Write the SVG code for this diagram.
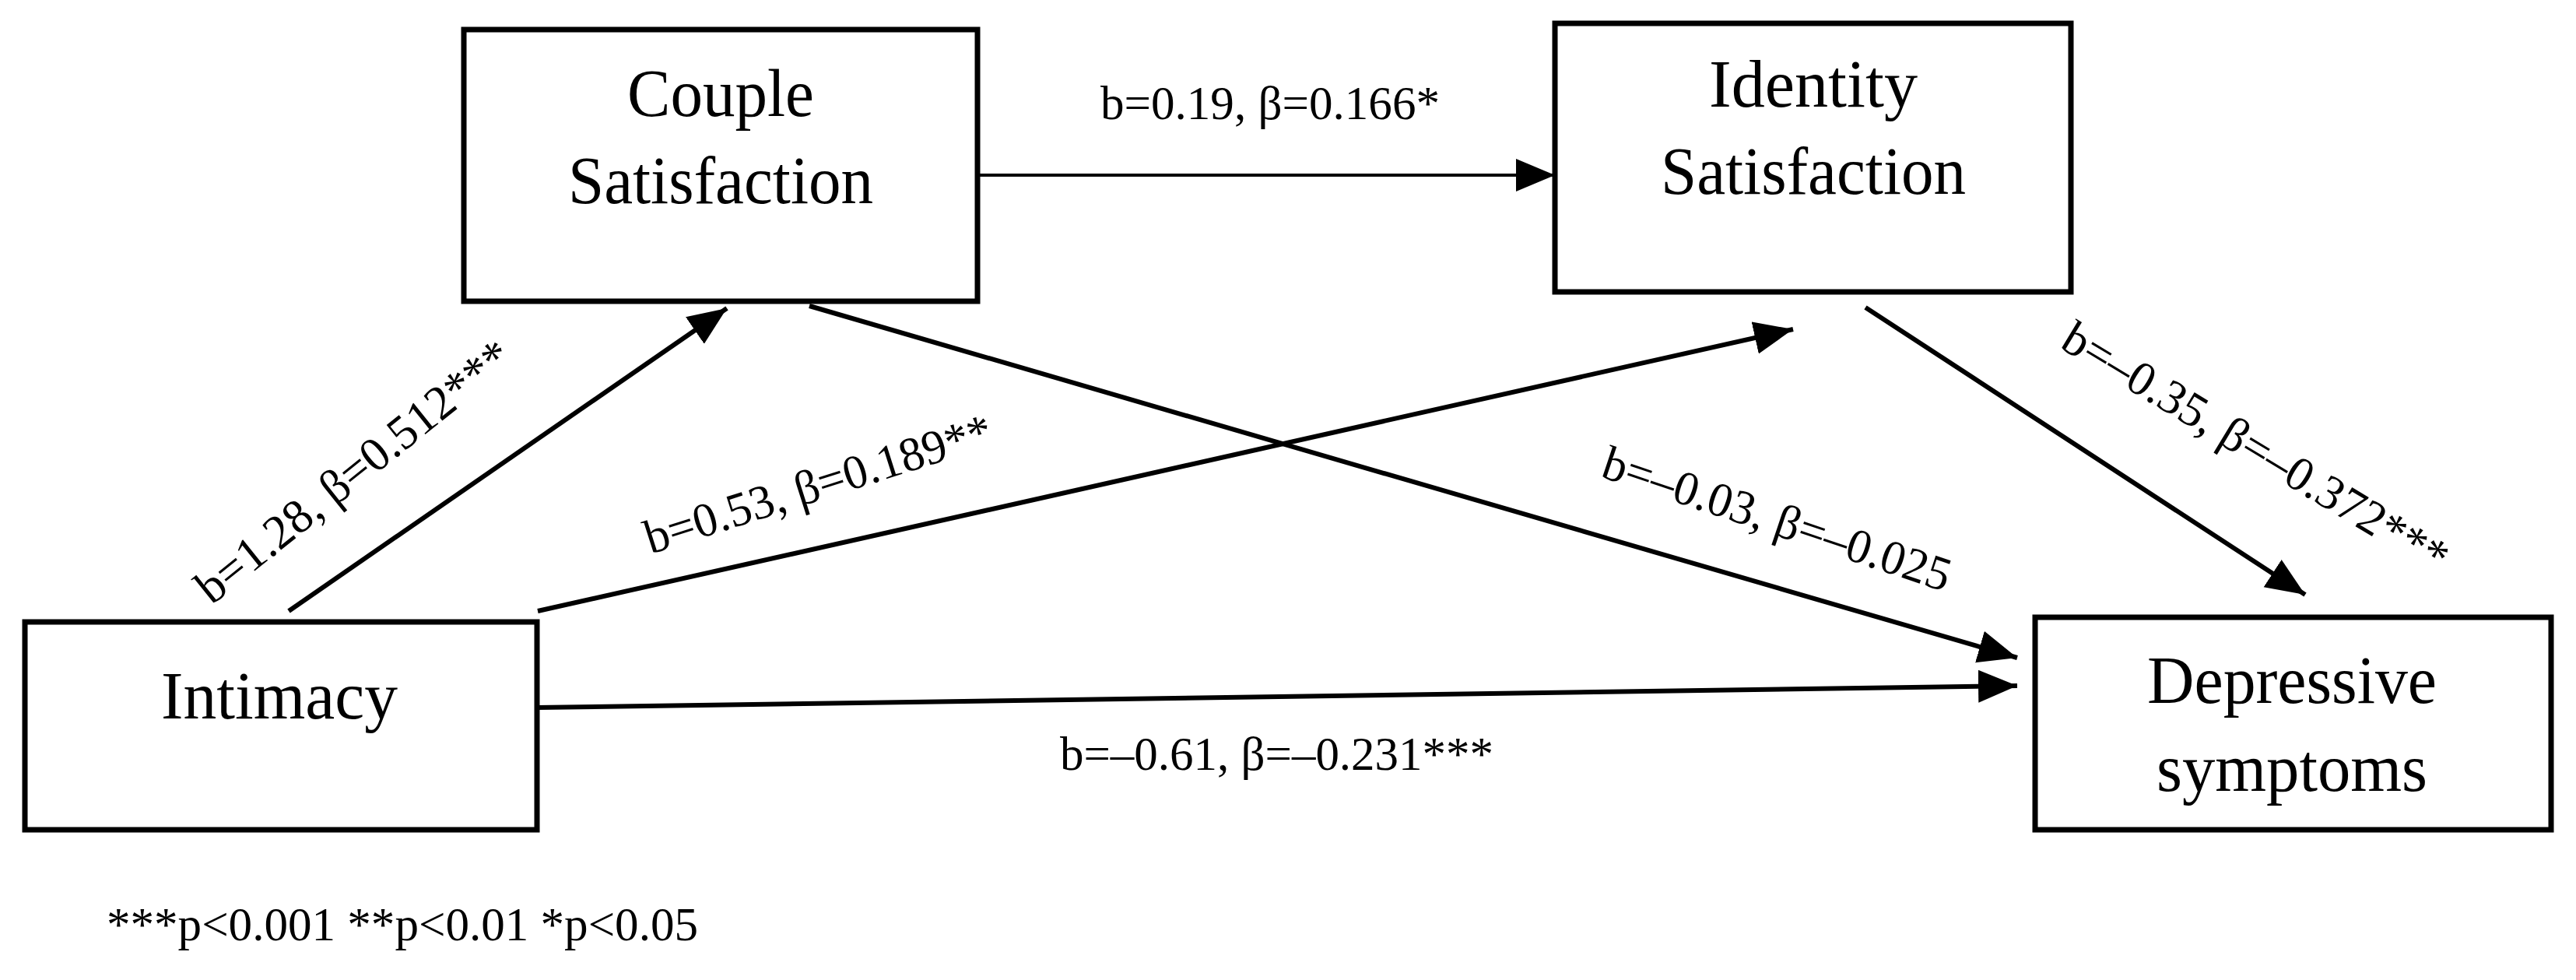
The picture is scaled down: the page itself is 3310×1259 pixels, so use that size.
<svg xmlns="http://www.w3.org/2000/svg" width="3310" height="1259" viewBox="0 0 3310 1259">
<style>
.box{fill:#fff;stroke:#000;stroke-width:7}
.nt{font-family:"Liberation Serif",serif;font-size:86px;fill:#000;text-anchor:middle}
.lb{font-family:"Liberation Serif",serif;font-size:62px;fill:#000}
.ln{stroke:#000;stroke-width:6;fill:none;marker-end:url(#ah)}
</style>
<defs>
<marker id="ah" markerUnits="userSpaceOnUse" markerWidth="60" markerHeight="50" refX="50" refY="21" orient="auto">
<path d="M0,0 L50,21 L0,42 Z" fill="#000"/>
</marker>
</defs>
<rect width="3310" height="1259" fill="#fff"/>
<g id="connectors">
<line class="ln" x1="1256" y1="225" x2="1998" y2="225" style="stroke-width:4"/>
<line class="ln" x1="371" y1="785" x2="934" y2="396"/>
<line class="ln" x1="691" y1="785" x2="2304" y2="423"/>
<line class="ln" x1="1040" y1="393" x2="2592" y2="845"/>
<line class="ln" x1="690" y1="909" x2="2592" y2="881"/>
<line class="ln" x1="2397" y1="395" x2="2962" y2="764"/>
</g>
<g id="couple"><rect class="box" x="596" y="38" width="660" height="349"/>
<text class="nt" x="926" y="149" textLength="240" lengthAdjust="spacingAndGlyphs">Couple</text>
<text class="nt" x="926" y="261" textLength="392" lengthAdjust="spacingAndGlyphs">Satisfaction</text></g>
<g id="identity"><rect class="box" x="1998" y="30" width="663" height="345"/>
<text class="nt" x="2330" y="137" textLength="268" lengthAdjust="spacingAndGlyphs">Identity</text>
<text class="nt" x="2330" y="249" textLength="392" lengthAdjust="spacingAndGlyphs">Satisfaction</text></g>
<g id="intimacy"><rect class="box" x="32" y="799" width="658" height="267"/>
<text class="nt" x="359" y="923" textLength="304" lengthAdjust="spacingAndGlyphs">Intimacy</text></g>
<g id="depressive"><rect class="box" x="2615" y="793" width="663" height="273"/>
<text class="nt" x="2945" y="903" textLength="372" lengthAdjust="spacingAndGlyphs">Depressive</text>
<text class="nt" x="2945" y="1016" textLength="348" lengthAdjust="spacingAndGlyphs">symptoms</text></g>
<g id="labels">
<text class="lb" x="1414" y="153" textLength="436" lengthAdjust="spacingAndGlyphs">b=0.19, β=0.166*</text>
<text class="lb" transform="translate(272,778) rotate(-38.7)" textLength="500" lengthAdjust="spacingAndGlyphs">b=1.28, β=0.512***</text>
<text class="lb" transform="translate(836,712) rotate(-17.7)" textLength="465" lengthAdjust="spacingAndGlyphs">b=0.53, β=0.189**</text>
<text class="lb" transform="translate(2055,612) rotate(18.5)" textLength="468" lengthAdjust="spacingAndGlyphs">b=–0.03, β=–0.025</text>
<text class="lb" transform="translate(2645,446) rotate(31.1)" textLength="567" lengthAdjust="spacingAndGlyphs">b=–0.35, β=–0.372***</text>
<text class="lb" x="1362" y="989" textLength="557" lengthAdjust="spacingAndGlyphs">b=–0.61, β=–0.231***</text>
<text class="lb" x="137" y="1208" textLength="760" lengthAdjust="spacingAndGlyphs">***p&lt;0.001 **p&lt;0.01 *p&lt;0.05</text>
</g>
</svg>
